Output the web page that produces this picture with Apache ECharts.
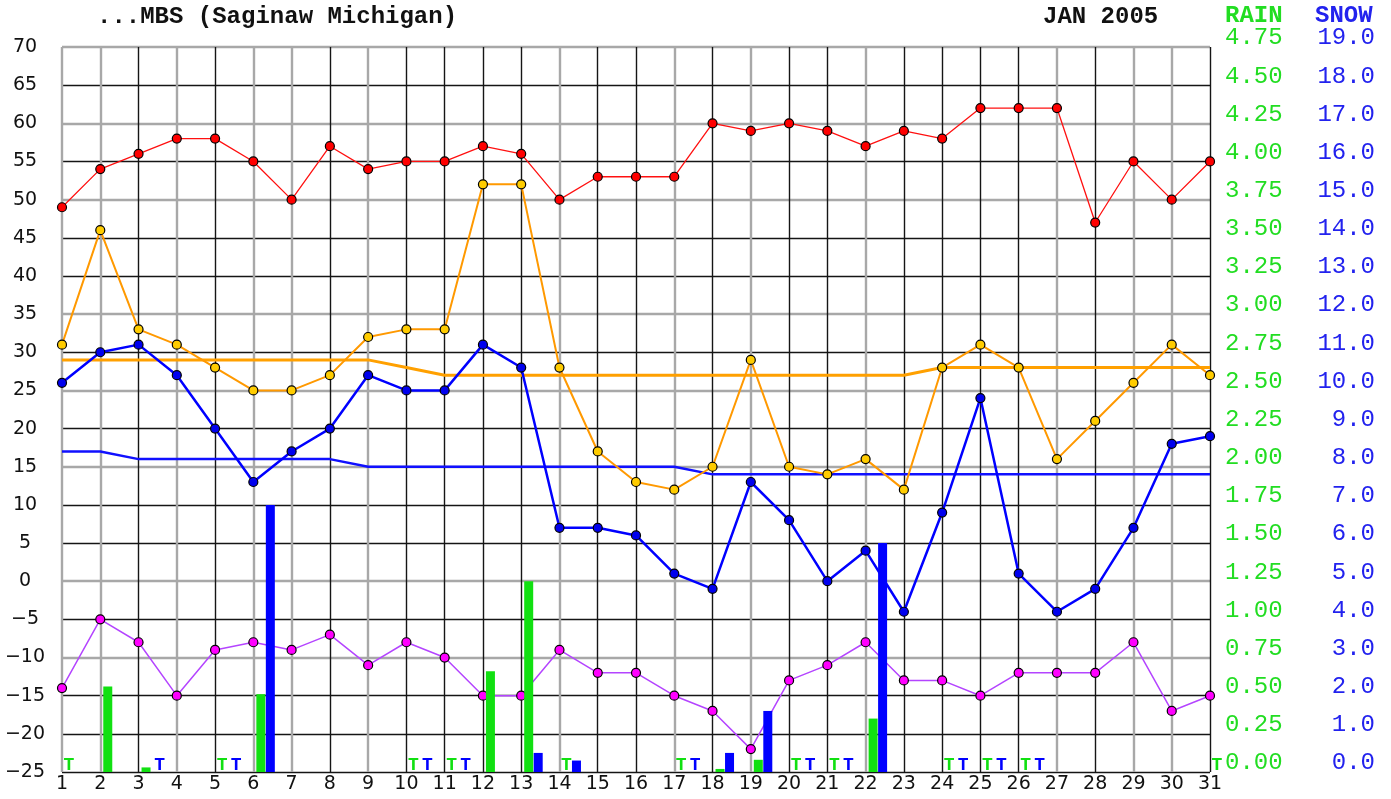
<!DOCTYPE html>
<html>
<head>
<meta charset="utf-8">
<script src="https://cdn.jsdelivr.net/npm/echarts@6/dist/echarts.min.js"></script>
<style>html,body{margin:0;padding:0;background:#fff}#c{width:1391px;height:799px}</style>
</head>
<body>
<div id="c"></div>
<script>
const days = ['1','2','3','4','5','6','7','8','9','10','11','12','13','14','15','16','17','18','19','20','21','22','23','24','25','26','27','28','29','30','31'];
const recordHigh = [49,54,56,58,58,55,50,57,54,55,55,57,56,50,53,53,53,60,59,60,59,57,59,58,62,62,62,47,55,50,55];
const actualHigh = [31,46,33,31,28,25,25,27,32,33,33,52,52,28,17,13,12,15,29,15,14,16,12,28,31,28,16,21,26,31,27];
const normalHigh = [29,29,29,29,29,29,29,29,29,28,27,27,27,27,27,27,27,27,27,27,27,27,27,28,28,28,28,28,28,28,28];
const actualLow = [26,30,31,27,20,13,17,20,27,25,25,31,28,7,7,6,1,-1,13,8,0,4,-4,9,24,1,-4,-1,7,18,19];
const normalLow = [17,17,16,16,16,16,16,16,15,15,15,15,15,15,15,15,15,14,14,14,14,14,14,14,14,14,14,14,14,14,14];
const recordLow = [-14,-5,-8,-15,-9,-8,-9,-7,-11,-8,-10,-15,-15,-9,-12,-12,-15,-17,-22,-13,-11,-8,-13,-13,-15,-12,-12,-12,-8,-17,-15];
const rain = ['T',0.56,0.03,0,'T',0.51,0,0,0,'T','T',0.66,1.25,'T',0,0,'T',0.02,0.08,'T','T',0.35,0,'T','T','T',0,0,0,0,'T'];
const snow = [0,0,'T',0,'T',7.0,0,0,0,'T','T',0,0.5,0.3,0,0,'T',0.5,1.6,'T','T',6.0,0,'T','T','T',0,0,0,0,0];
const titleText = '...MBS (Saginaw Michigan)';
const monthText = 'JAN 2005';

// grid line styling (black vs grey lines as in the reference)
const B = '#151515', G = '#a8a8a8', N = 'rgba(0,0,0,0)';
const yPattern = ['B','B','B','G','B','G','B','B','G','B','G','B','G','B','B','G','B','G','B','G'];
const xPattern = ['G','G','B','G','B','G','G','B','G','B','B','B','B','G','B','B','G','B','G','B','B','G','B','B','B','B','G','B','G','G','B'];
const pick = (pat, want, col) => pat.map(p => p === want ? col : N);

const GREEN = '#11e011', BLUE = '#0000ff';

function precip(dx0, dx1, tdx, color) {
  return function (params, api) {
    const i = api.value(0), v = api.value(1), t = api.value(2);
    const base = api.coord([i, 0]);
    if (t) {
      return {type: 'text', x: base[0] + tdx, y: base[1] + 2,
        style: {text: 'T', fill: color, font: 'bold 18px "Liberation Mono"', align: 'center', verticalAlign: 'bottom'}};
    }
    if (!v) return {type: 'group', children: []};
    const top = api.coord([i, v]);
    return {type: 'rect', shape: {x: base[0] + dx0, y: top[1], width: dx1 - dx0, height: base[1] - top[1]},
      style: {fill: color}};
  };
}

const chart = echarts.init(document.getElementById('c'), null, {renderer: 'canvas'});
const lineSeries = (data, color, width, symColor, symSize) => ({
  type: 'line', data, xAxisIndex: 0, yAxisIndex: 0, z: 3,
  symbol: symColor ? 'circle' : 'none', symbolSize: symSize || 8, showSymbol: !!symColor,
  lineStyle: {color, width}, itemStyle: {color: symColor || color, borderColor: '#000', borderWidth: 1.2},
  emphasis: {disabled: true}
});

chart.setOption({
  animation: false,
  backgroundColor: '#fff',
  grid: {left: 62, right: 181, top: 47, bottom: 27, containLabel: false},
  xAxis: [
    {type: 'category', data: days, boundaryGap: false,
      axisLine: {show: false}, axisTick: {show: false},
      axisLabel: {interval: 0, margin: 3, color: '#111', fontSize: 19, fontFamily: 'DejaVu Sans', verticalAlign: 'top'},
      splitLine: {show: true, interval: 0, lineStyle: {color: pick(xPattern, 'B', B), width: 1.4}}},
    {type: 'category', data: days, boundaryGap: false, position: 'bottom',
      axisLine: {show: false}, axisTick: {show: false}, axisLabel: {show: false},
      splitLine: {show: true, interval: 0, lineStyle: {color: pick(xPattern, 'G', G), width: 2.4}}}
  ],
  yAxis: [
    {type: 'value', min: -25, max: 70, interval: 5, position: 'left',
      axisLine: {show: false}, axisTick: {show: false},
      axisLabel: {margin: 37, align: 'center', color: '#111', fontSize: 19, fontFamily: 'DejaVu Sans',
        formatter: v => String(v).replace('-', '\u2212')},
      splitLine: {show: true, lineStyle: {color: pick(yPattern, 'B', B), width: 1.4}}},
    {type: 'value', min: 0, max: 4.75, interval: 0.25, position: 'right',
      axisLine: {show: false}, axisTick: {show: false}, splitLine: {show: false},
      axisLabel: {margin: 15, align: 'left', verticalAlign: 'bottom', lineHeight: 18, color: '#22dd22',
        fontSize: 24, fontFamily: 'Liberation Mono', showMinLabel: true, showMaxLabel: true,
        formatter: v => v.toFixed(2)}},
    {type: 'value', min: 0, max: 19, interval: 1, position: 'right',
      axisLine: {show: false}, axisTick: {show: false}, splitLine: {show: false},
      axisLabel: {margin: 165, align: 'right', verticalAlign: 'bottom', lineHeight: 18, color: '#2222ee',
        fontSize: 24, fontFamily: 'Liberation Mono', showMinLabel: true, showMaxLabel: true,
        formatter: v => v.toFixed(1)}},
    {type: 'value', min: -25, max: 70, interval: 5, position: 'left',
      axisLine: {show: false}, axisTick: {show: false}, axisLabel: {show: false},
      splitLine: {show: true, lineStyle: {color: pick(yPattern, 'G', G), width: 2.4}}}
  ],
  graphic: [
    {type: 'text', x: 97, y: 17, style: {text: titleText, font: 'bold 24px "Liberation Mono"', fill: '#111', verticalAlign: 'middle'}},
    {type: 'text', x: 1043, y: 17, style: {text: monthText, font: 'bold 24px "Liberation Mono"', fill: '#111', verticalAlign: 'middle'}},
    {type: 'text', x: 1225, y: 16, style: {text: 'RAIN', font: 'bold 24px "Liberation Mono"', fill: '#22dd22', verticalAlign: 'middle'}},
    {type: 'text', x: 1315, y: 16, style: {text: 'SNOW', font: 'bold 24px "Liberation Mono"', fill: '#2222ee', verticalAlign: 'middle'}}
  ],
  series: [
    lineSeries(normalHigh, '#ffa000', 3, null),
    lineSeries(normalLow, '#1010ff', 2.5, null),
    lineSeries(recordHigh, '#ff1010', 1.3, '#ff0000', 9),
    lineSeries(actualHigh, '#ff9900', 2, '#ffcc00', 9),
    lineSeries(actualLow, '#0000ff', 2.5, '#0000ee', 9),
    lineSeries(recordLow, '#b444ff', 1.5, '#ff00ff', 9),
    {type: 'custom', xAxisIndex: 0, yAxisIndex: 1, z: 5, clip: false,
      encode: {x: 0, y: 1},
      data: rain.map((v, i) => [i, v === 'T' ? 0 : v, v === 'T' ? 1 : 0]),
      renderItem: precip(3, 12, 7, GREEN)},
    {type: 'custom', xAxisIndex: 0, yAxisIndex: 2, z: 5, clip: false,
      encode: {x: 0, y: 1},
      data: snow.map((v, i) => [i, v === 'T' ? 0 : v, v === 'T' ? 1 : 0]),
      renderItem: precip(12.5, 21.5, 21, BLUE)}
  ]
});
</script>
</body>
</html>
